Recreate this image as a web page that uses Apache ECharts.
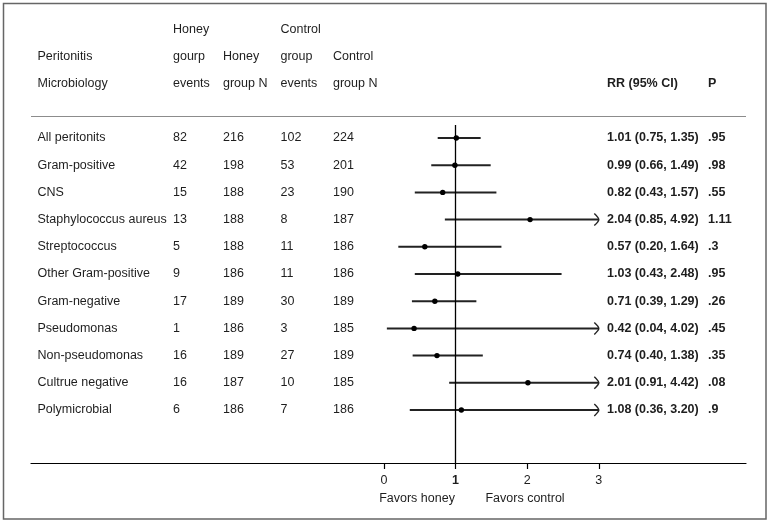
<!DOCTYPE html>
<html>
<head>
<meta charset="utf-8">
<script src="https://cdn.jsdelivr.net/npm/echarts@6/dist/echarts.min.js"></script>
<style>
html,body{margin:0;padding:0;background:#fff;}
#chart{width:770px;height:523px;}
</style>
</head>
<body>
<div id="chart"></div>
<script>
// ---- data ----
var categories = ['All peritonits','Gram-positive','CNS','Staphylococcus aureus','Streptococcus','Other Gram-positive','Gram-negative','Pseudomonas','Non-pseudomonas','Cultrue negative','Polymicrobial'];
var honeyEvents = [82,42,15,13,5,9,17,1,16,16,6];
var honeyN = [216,198,188,188,188,186,189,186,189,187,186];
var controlEvents = [102,53,23,8,11,11,30,3,27,10,7];
var controlN = [224,201,190,187,186,186,189,185,189,185,186];
var rr = [1.01,0.99,0.82,2.04,0.57,1.03,0.71,0.42,0.74,2.01,1.08];
var ciLow = [0.75,0.66,0.43,0.85,0.20,0.43,0.39,0.04,0.40,0.91,0.36];
var ciHigh = [1.35,1.49,1.57,4.92,1.64,2.48,1.29,4.02,1.38,4.42,3.20];
var pValues = ['.95','.98','.55','1.11','.3','.95','.26','.45','.35','.08','.9'];
var xTicks = [0,1,2,3];
var headerCol0 = ['','Peritonitis','Microbiology'];
var headerCol1 = ['Honey','gourp','events'];
var headerCol2 = ['','Honey','group N'];
var headerCol3 = ['Control','group','events'];
var headerCol4 = ['','Control','group N'];
var headerRR = 'RR (95% CI)';
var headerP = 'P';
var favorLabels = ['Favors honey','Favors control'];

// ---- layout ----
var ROW0 = 138, ROWH = 27.2, AXIS_Y = 463, H = 523;
var X0 = 384, XU = 71.6, GL = 31, GR = 746;
var COLX = [37.5, 173, 223, 280.5, 333, 607, 708];
var FONT = 'Liberation Sans, Arial, Helvetica, sans-serif';
var FS = 12.5;
var TXT = '#1e1e1e';
var XMAX_DRAW = xTicks[xTicks.length - 1];

function fmt2(v){ return v.toFixed(2); }

// table cells
var cells = [];
var headerCols = [headerCol0, headerCol1, headerCol2, headerCol3, headerCol4];
for (var c = 0; c < headerCols.length; c++) {
  for (var r = 0; r < 3; r++) {
    if (headerCols[c][r]) cells.push({col: c, row: r - 4, text: headerCols[c][r], bold: false});
  }
}
cells.push({col: 5, row: -2, text: headerRR, bold: true});
cells.push({col: 6, row: -2, text: headerP, bold: true});
for (var i = 0; i < categories.length; i++) {
  cells.push({col: 0, row: i, text: categories[i], bold: false});
  cells.push({col: 1, row: i, text: String(honeyEvents[i]), bold: false});
  cells.push({col: 2, row: i, text: String(honeyN[i]), bold: false});
  cells.push({col: 3, row: i, text: String(controlEvents[i]), bold: false});
  cells.push({col: 4, row: i, text: String(controlN[i]), bold: false});
  cells.push({col: 5, row: i, text: fmt2(rr[i]) + ' (' + fmt2(ciLow[i]) + ', ' + fmt2(ciHigh[i]) + ')', bold: true});
  cells.push({col: 6, row: i, text: pValues[i], bold: true});
}

var forestData = categories.map(function(_, i){ return [rr[i], ciLow[i], ciHigh[i], i]; });
var FAV_ROW = (499 - ROW0) / ROWH;
var favorData = [[0.99, FAV_ROW], [1.97, FAV_ROW]];

var chart = echarts.init(document.getElementById('chart'), null, {renderer: 'canvas'});
chart.setOption({
  animation: false,
  backgroundColor: '#fff',
  textStyle: {fontFamily: FONT},
  grid: {left: GL, right: 770 - GR, top: 0, bottom: H - AXIS_Y, containLabel: false},
  xAxis: {
    type: 'value',
    position: 'bottom',
    min: -(X0 - GL) / XU,
    max: (GR - X0) / XU,
    axisLine: {show: true, onZero: false, lineStyle: {color: '#000', width: 1.2}},
    axisTick: {show: true, customValues: xTicks, length: 6, lineStyle: {color: '#000', width: 1.2}},
    axisLabel: {
      show: true, customValues: xTicks, margin: 11,
      formatter: function(v){ return v === 1 ? '{b|' + v + '}' : '{n|' + v + '}'; },
      rich: {
        b: {fontFamily: FONT, fontSize: FS, fontWeight: 'bold', color: TXT},
        n: {fontFamily: FONT, fontSize: FS, color: TXT}
      }
    },
    splitLine: {show: false}
  },
  yAxis: {
    type: 'value', inverse: true, show: false,
    min: -ROW0 / ROWH, max: (AXIS_Y - ROW0) / ROWH,
    splitLine: {show: false}
  },
  graphic: [{
    type: 'rect', silent: true,
    shape: {x: 3.5, y: 3.5, width: 762.5, height: 515.5},
    style: {fill: 'none', stroke: '#666', lineWidth: 1.5}
  }],
  series: [
    {
      type: 'custom', name: 'forest', coordinateSystem: 'cartesian2d',
      encode: {x: [0, 1, 2], y: 3},
      data: forestData,
      clip: false,
      renderItem: function(params, api){
        var r = api.value(0), l = api.value(1), h = api.value(2), row = api.value(3);
        var pL = api.coord([l, row]);
        var pR = api.coord([Math.min(h, XMAX_DRAW), row]);
        var pC = api.coord([r, row]);
        var children = [
          {type: 'line', shape: {x1: pL[0], y1: pL[1], x2: pR[0], y2: pR[1]}, style: {stroke: '#222', lineWidth: 2}},
          {type: 'circle', shape: {cx: pC[0], cy: pC[1], r: 2.7}, style: {fill: '#000'}}
        ];
        if (h > XMAX_DRAW) {
          var x = pR[0], y = pR[1];
          children.push({type: 'polyline', shape: {points: [[x - 4.5, y - 6], [x - 1, y - 2.2], [x, y], [x - 1, y + 2.2], [x - 4.5, y + 6]], smooth: 0.4}, style: {stroke: '#222', lineWidth: 1.4, fill: 'none'}});
        }
        return {type: 'group', children: children};
      },
      markLine: {
        silent: true, symbol: 'none', animation: false,
        label: {show: false},
        data: [
          [{coord: [1, (125 - ROW0) / ROWH], lineStyle: {color: '#000', width: 1.3, type: 'solid'}},
           {coord: [1, (AXIS_Y - ROW0) / ROWH]}],
          {yAxis: (116 - ROW0) / ROWH, lineStyle: {color: '#8c8c8c', width: 1.2, type: 'solid'}}
        ]
      }
    },
    {
      type: 'custom', name: 'table', coordinateSystem: 'cartesian2d',
      encode: {x: 0, y: 1},
      data: cells.map(function(c){ return [0, c.row]; }),
      clip: false, silent: true,
      renderItem: function(params, api){
        var c = cells[params.dataIndex];
        var y = api.coord([0, c.row])[1];
        return {type: 'text', x: COLX[c.col], y: y,
          style: {text: c.text, fill: TXT, font: (c.bold ? 'bold ' : '') + FS + 'px ' + FONT,
                  textAlign: 'left', textVerticalAlign: 'middle'}};
      }
    },
    {
      type: 'custom', name: 'favors', coordinateSystem: 'cartesian2d',
      encode: {x: 0, y: 1},
      data: favorData,
      clip: false, silent: true,
      renderItem: function(params, api){
        var p = api.coord([api.value(0), api.value(1)]);
        return {type: 'text', x: p[0], y: p[1],
          style: {text: favorLabels[params.dataIndex], fill: TXT, font: FS + 'px ' + FONT,
                  textAlign: params.dataIndex === 0 ? 'right' : 'center', textVerticalAlign: 'middle'}};
      }
    }
  ]
});
</script>
</body>
</html>
